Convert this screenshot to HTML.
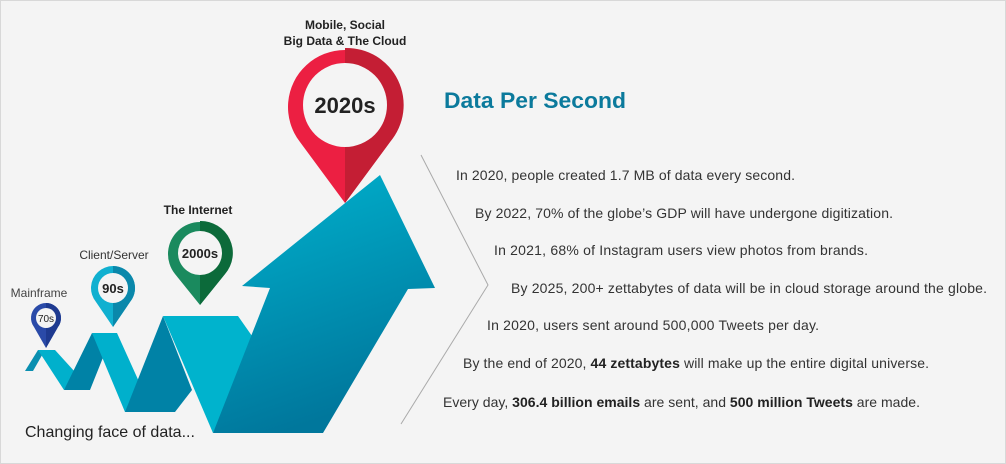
<!DOCTYPE html>
<html><head><style>
html,body{margin:0;padding:0;background:#f4f4f4}
svg{display:block}
text{font-family:"Liberation Sans",sans-serif}
</style></head><body>
<svg width="1006" height="464" viewBox="0 0 1006 464" xmlns="http://www.w3.org/2000/svg">
<defs>
<linearGradient id="ag" x1="0" y1="0" x2="0.3" y2="1">
<stop offset="0" stop-color="#00b3cf"/><stop offset="1" stop-color="#00779c"/>
</linearGradient>
</defs>
<rect x="0.5" y="0.5" width="1005" height="463" fill="#f4f4f4" stroke="#d8d8d8"/>
<polygon points="25,371 38,350 45,350 33,371" fill="#0a8fb0"/>
<polygon points="38,350 55,350 75,372 64,390" fill="#00b0cc"/>
<polygon points="64,390 92,333 104,355 90,390" fill="#0082a6"/>
<polygon points="92,333 117,333 145,395 125,412" fill="#00b0cc"/>
<polygon points="125,412 163,316 192,390 175,412" fill="#0082a6"/>
<polygon points="163,316 238,316 252,336 232,392 213,433" fill="#00b3cd"/>
<polygon points="213,433 270,288 242,286 380,175 435,288 408,289 323,433" fill="url(#ag)"/>
<polyline points="421,155 488,285 401,424" fill="none" stroke="#aaa" stroke-width="1"/>
<g>
<path d="M46,348 L34,327 A15,15 0 1 1 58,327 Z" fill="#2a4aa8"/>
<path d="M46,348 L46,303 A15,15 0 0 1 58,327 Z" fill="#1e3a90"/>
<circle cx="46" cy="318" r="10" fill="#f4f4f4"/>
<text x="46" y="322" font-size="10" text-anchor="middle" fill="#222">70s</text>
</g>
<g>
<path d="M113,327 L96,302 A22,22 0 1 1 130,302 Z" fill="#10b0d0"/>
<path d="M113,327 L113,266 A22,22 0 0 1 130,302 Z" fill="#0a88ab"/>
<circle cx="113" cy="288" r="15" fill="#f4f4f4"/>
<text x="113" y="293" font-size="13" font-weight="bold" text-anchor="middle" fill="#222">90s</text>
</g>
<g>
<path d="M200,305 L175,274 A32,32 0 1 1 225,274 Z" fill="#1a8a5e"/>
<path d="M200,305 L200,221 A32,32 0 0 1 225,274 Z" fill="#0c6a3a"/>
<circle cx="200" cy="253" r="22" fill="#f4f4f4"/>
<text x="200" y="258" font-size="13" font-weight="bold" text-anchor="middle" fill="#222">2000s</text>
</g>
<g>
<path d="M345,203 L300,142 A57,57 0 1 1 390,142 Z" fill="#ec1f42"/>
<path d="M345,203 L345,48 A57,57 0 0 1 390,142 Z" fill="#c41e34"/>
<circle cx="345" cy="105" r="42" fill="#f4f4f4"/>
<text x="345" y="113" font-size="22" font-weight="bold" text-anchor="middle" fill="#222">2020s</text>
</g>
<text x="39" y="297" font-size="12" text-anchor="middle" fill="#444">Mainframe</text>
<text x="114" y="259" font-size="12" text-anchor="middle" fill="#333">Client/Server</text>
<text x="198" y="214" font-size="12" font-weight="bold" text-anchor="middle" fill="#222">The Internet</text>
<text x="345" y="29" font-size="12" font-weight="bold" text-anchor="middle" fill="#222">Mobile, Social</text>
<text x="345" y="45" font-size="12" font-weight="bold" text-anchor="middle" fill="#222">Big Data &amp; The Cloud</text>
<text x="25" y="437" font-size="16" fill="#222">Changing face of data...</text>
<text x="444" y="108" font-size="22" font-weight="bold" fill="#0b7a9c" textLength="182" lengthAdjust="spacingAndGlyphs">Data Per Second</text>
<g font-size="14" fill="#333">
<text x="456" y="180" textLength="339" lengthAdjust="spacing">In 2020, people created 1.7 MB of data every second.</text>
<text x="475" y="218" textLength="418" lengthAdjust="spacing">By 2022, 70% of the globe’s GDP will have undergone digitization.</text>
<text x="494" y="255" textLength="374" lengthAdjust="spacing">In 2021, 68% of Instagram users view photos from brands.</text>
<text x="511" y="293" textLength="476" lengthAdjust="spacing">By 2025, 200+ zettabytes of data will be in cloud storage around the globe.</text>
<text x="487" y="330" textLength="332" lengthAdjust="spacing">In 2020, users sent around 500,000 Tweets per day.</text>
<text x="463" y="368" textLength="466" lengthAdjust="spacing">By the end of 2020, <tspan font-weight="bold" fill="#222">44 zettabytes</tspan> will make up the entire digital universe.</text>
<text x="443" y="407" textLength="477" lengthAdjust="spacing">Every day, <tspan font-weight="bold" fill="#222">306.4 billion emails</tspan> are sent, and <tspan font-weight="bold" fill="#222">500 million Tweets</tspan> are made.</text>
</g>
</svg>
</body></html>
